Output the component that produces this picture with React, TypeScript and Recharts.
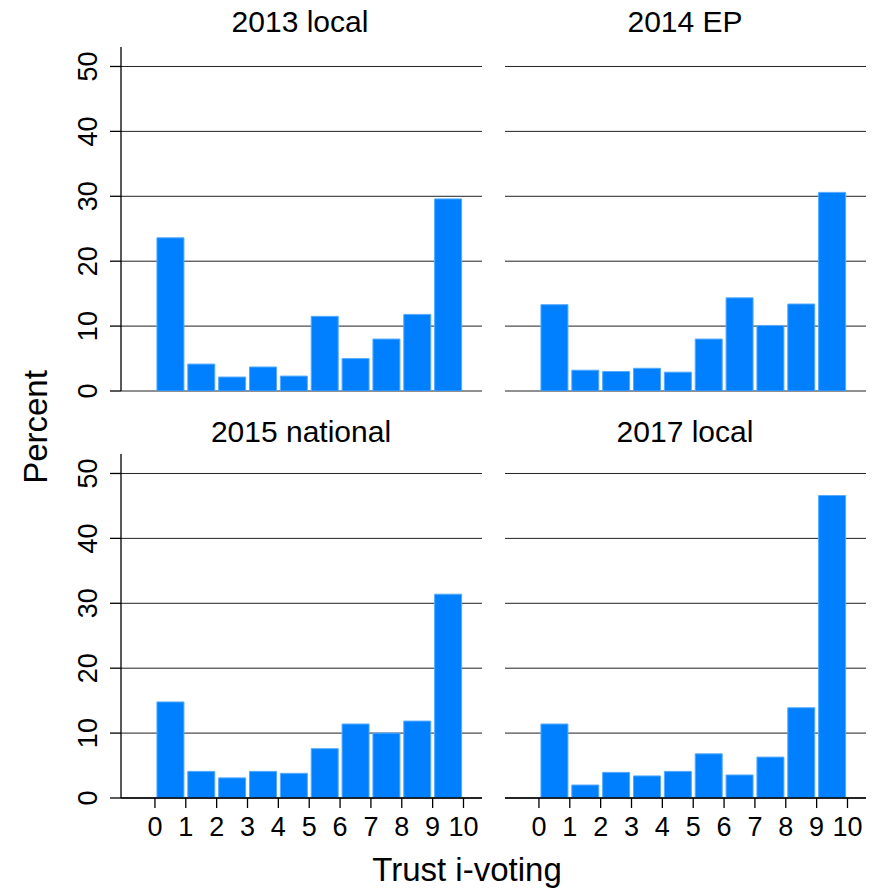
import React from 'react';
import { BarChart, Bar, XAxis, YAxis, CartesianGrid } from 'recharts';

// bin centres (bins 0-1, 1-2, ... 9-10)
const binCenters = [0.5, 1.5, 2.5, 3.5, 4.5, 5.5, 6.5, 7.5, 8.5, 9.5];

const local2013 = [23.6, 4.15, 2.15, 3.7, 2.3, 11.5, 5.0, 8.0, 11.8, 29.6];
const ep2014 = [13.3, 3.2, 3.0, 3.5, 2.9, 8.0, 14.35, 10.1, 13.4, 30.6];
const national2015 = [14.8, 4.1, 3.1, 4.1, 3.8, 7.6, 11.4, 10.0, 11.85, 31.4];
const local2017 = [11.4, 2.0, 3.95, 3.4, 4.1, 6.8, 3.55, 6.3, 13.9, 46.6];

const xTicks = [0, 1, 2, 3, 4, 5, 6, 7, 8, 9, 10];
const yTicks = [0, 10, 20, 30, 40, 50];

const FONT = '"Liberation Sans", Arial, sans-serif';
const BAR_COLOR = '#0080ff';

const toRows = (values: number[]) =>
  binCenters.map((x, i) => ({ x, pct: values[i] }));

const RotatedYTick = (props: any) => {
  const { y, payload } = props;
  const bx = 97;
  return (
    <text
      x={bx}
      y={y}
      transform={`rotate(-90, ${bx}, ${y})`}
      textAnchor="middle"
      fontSize={27}
      fontFamily={FONT}
      fill="#000"
    >
      {payload.value}
    </text>
  );
};

interface PanelProps {
  values: number[];
  left: number;
  top: number;
  width: number;
  height: number;
  margin: { top: number; right: number; bottom: number; left: number };
  showY: boolean;
  showX: boolean;
}

const Panel: React.FC<PanelProps> = ({ values, left, top, width, height, margin, showY, showX }) => (
  <div style={{ position: 'absolute', left, top }}>
    <BarChart width={width} height={height} data={toRows(values)} margin={margin}>
      <CartesianGrid vertical={false} horizontalValues={yTicks} stroke="#222" strokeOpacity={1} />
      <XAxis
        dataKey="x"
        type="number"
        domain={[-1.1, 10.6]}
        ticks={xTicks}
        allowDataOverflow
        hide={!showX}
        height={93}
        axisLine={{ stroke: '#000', strokeWidth: 1.3 }}
        tickLine={{ stroke: '#000', strokeWidth: 1.3 }}
        tickSize={10}
        tickMargin={9}
        interval={0}
        tick={{ fontSize: 27, fontFamily: FONT, fill: '#000' }}
      />
      <YAxis
        type="number"
        domain={[0, 53]}
        ticks={yTicks}
        allowDataOverflow
        hide={!showY}
        width={121 - margin.left}
        axisLine={{ stroke: '#000', strokeWidth: 1.3 }}
        tickLine={{ stroke: '#000', strokeWidth: 1.3 }}
        tickSize={11}
        interval={0}
        tick={<RotatedYTick />}
      />
      <Bar
        dataKey="pct"
        fill={BAR_COLOR}
        stroke="#55aaff"
        strokeWidth={1}
        barSize={27}
        isAnimationActive={false}
      />
    </BarChart>
  </div>
);

const titleStyle = { fontSize: 30, fontFamily: FONT, fill: '#000' };
const axisTitleStyle = { fontSize: 33, fontFamily: FONT, fill: '#000' };

export default function App() {
  return (
    <div style={{ position: 'absolute', left: 0, top: 0, width: 874, height: 891, background: '#fff' }}>
      <Panel values={local2013} left={0} top={0} width={490} height={400}
        margin={{ top: 47, right: 8, bottom: 9, left: 0 }} showY showX={false} />
      <Panel values={ep2014} left={490} top={0} width={384} height={400}
        margin={{ top: 47, right: 8, bottom: 9, left: 15 }} showY={false} showX={false} />
      <Panel values={national2015} left={0} top={410} width={490} height={481}
        margin={{ top: 44, right: 8, bottom: 0, left: 0 }} showY showX />
      <Panel values={local2017} left={490} top={410} width={384} height={481}
        margin={{ top: 44, right: 8, bottom: 0, left: 15 }} showY={false} showX />
      <svg width={874} height={891} style={{ position: 'absolute', left: 0, top: 0, pointerEvents: 'none' }}>
        <text x={300} y={32} textAnchor="middle" style={titleStyle}>2013 local</text>
        <text x={685} y={32} textAnchor="middle" style={titleStyle}>2014 EP</text>
        <text x={301} y={442} textAnchor="middle" style={titleStyle}>2015 national</text>
        <text x={685} y={442} textAnchor="middle" style={titleStyle}>2017 local</text>
        <text x={47} y={427} transform="rotate(-90, 47, 427)" textAnchor="middle" style={axisTitleStyle}>Percent</text>
        <text x={467} y={881} textAnchor="middle" style={axisTitleStyle}>Trust i-voting</text>
      </svg>
    </div>
  );
}
